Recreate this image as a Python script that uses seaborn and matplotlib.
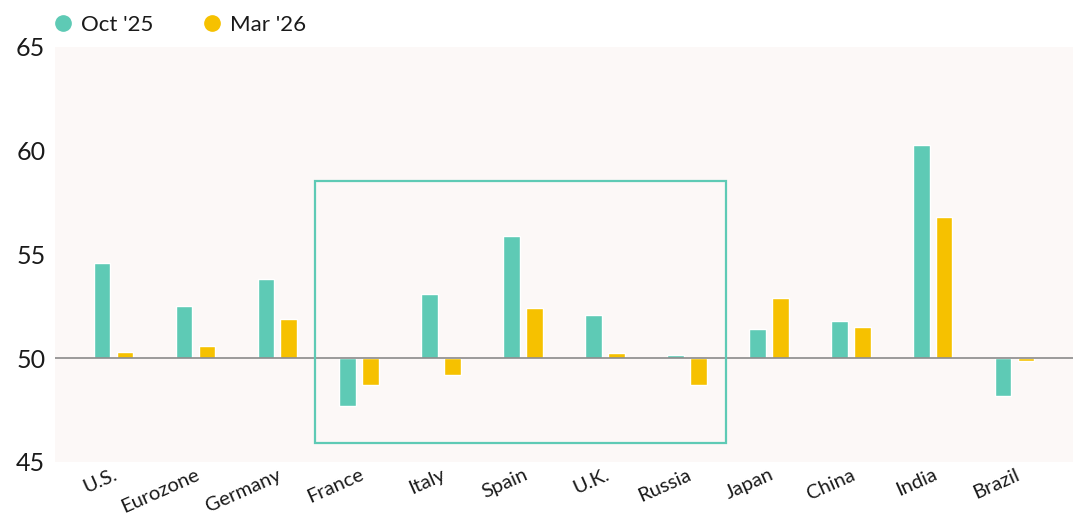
import numpy as np
import pandas as pd
import matplotlib
matplotlib.use("Agg")
import matplotlib.pyplot as plt
from matplotlib.patches import Rectangle
from matplotlib.lines import Line2D
import seaborn as sns

# PMI readings, 50 = expansion / contraction line
countries = ["U.S.", "Eurozone", "Germany", "France", "Italy", "Spain",
             "U.K.", "Russia", "Japan", "China", "India", "Brazil"]
oct_25 = [54.6, 52.5, 53.8, 47.7, 53.1, 55.9, 52.1, 50.15, 51.4, 51.8, 60.3, 48.2]
mar_26 = [50.3, 50.6, 51.9, 48.7, 49.2, 52.4, 50.25, 48.7, 52.9, 51.5, 56.8, 49.85]
series = ["Oct '25", "Mar '26"]
yticks = [45, 50, 55, 60, 65]

teal = "#5ecab5"
gold = "#f6c100"
bg = "#fcf8f7"

df = pd.DataFrame({
    "country": countries * 2,
    "period": [series[0]] * len(countries) + [series[1]] * len(countries),
    "value": oct_25 + mar_26,
})
df["delta"] = df["value"] - 50

sns.set_theme(style="white")
plt.rcParams["font.family"] = ["Lato", "DejaVu Sans"]

fig = plt.figure(figsize=(10.73, 5.17), dpi=100)
ax = fig.add_axes([0.0513, 0.1064, 0.9487, 0.8027])
ax.set_facecolor(bg)

sns.barplot(data=df, x="country", y="delta", hue="period", order=countries,
            hue_order=series, palette=[teal, gold], width=0.56, gap=0.29,
            saturation=1, ax=ax, legend=False)

ax.axhline(0, color="#8a8a8a", lw=1.2, zorder=3)
ax.set_xlim(-0.71, 11.71)
ax.set_ylim(-5, 15)
ax.set_yticks([t - 50 for t in yticks])
ax.set_yticklabels([str(t) for t in yticks], fontsize=18, color="#1a1a1a")
ax.tick_params(axis="y", pad=7, length=0)
ax.tick_params(axis="x", length=0, pad=3)
ax.set_xticks(range(len(countries)))
ax.set_xticklabels(countries, rotation=24, fontsize=14.5, color="#1a1a1a")
for lab in ax.get_xticklabels():
    lab.set_rotation_mode("anchor")
    lab.set_horizontalalignment("right")
    lab.set_verticalalignment("top")
ax.set_xlabel("")
ax.set_ylabel("")
for s in ax.spines.values():
    s.set_visible(False)

# highlight box around France..Russia
ax.add_patch(Rectangle((2.46, 45.9 - 50), 7.48 - 2.46, 58.53 - 45.9,
                       fill=False, edgecolor=teal, lw=1.6, zorder=4))

handles = [Line2D([], [], marker="o", ls="", markersize=11, color=c) for c in (teal, gold)]
fig.legend(handles, series, loc="upper left", bbox_to_anchor=(0.031, 1.01), ncol=2,
           frameon=False, fontsize=16, handlelength=0.9, handletextpad=0.35,
           columnspacing=2.2, labelcolor="#1a1a1a")

fig.savefig("out.png", dpi=100)
